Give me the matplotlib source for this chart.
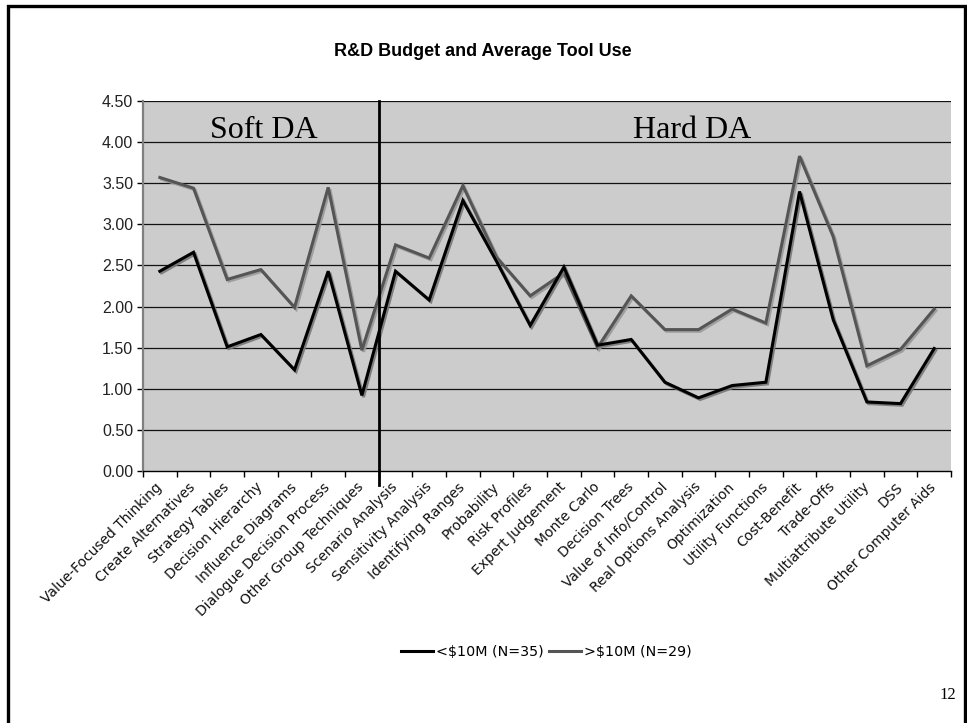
import matplotlib
matplotlib.use('Agg')
import matplotlib.pyplot as plt
import matplotlib.patheffects as pe
from matplotlib.patches import Rectangle
import numpy as np

# 工具名称（前7项为 Soft DA，其余为 Hard DA）
tools = [
    'Value-Focused Thinking', 'Create Alternatives', 'Strategy Tables',
    'Decision Hierarchy', 'Influence Diagrams', 'Dialogue Decision Process',
    'Other Group Techniques', 'Scenario Analysis', 'Sensitivity Analysis',
    'Identifying Ranges', 'Probability', 'Risk Profiles', 'Expert Judgement',
    'Monte Carlo', 'Decision Trees', 'Value of Info/Control',
    'Real Options Analysis', 'Optimization', 'Utility Functions',
    'Cost-Benefit', 'Trade-Offs', 'Multiattribute Utility', 'DSS',
    'Other Computer Aids',
]
n_soft = 7

# 平均使用程度
small_budget = [2.43, 2.66, 1.51, 1.66, 1.23, 2.43, 0.92, 2.43, 2.08, 3.29,
                2.55, 1.77, 2.48, 1.53, 1.60, 1.08, 0.89, 1.04, 1.08, 3.40,
                1.84, 0.84, 0.82, 1.49]
large_budget = [3.57, 3.44, 2.33, 2.45, 1.99, 3.45, 1.47, 2.75, 2.59, 3.47,
                2.60, 2.13, 2.41, 1.50, 2.13, 1.72, 1.72, 1.97, 1.80, 3.83,
                2.85, 1.28, 1.48, 1.97]
series_labels = ['<$10M (N=35)', '>$10M (N=29)']

y_ticks = np.arange(0, 4.51, 0.5)

fig = plt.figure(figsize=(9.67, 7.23), dpi=100)
ax = fig.add_axes([0.1479, 0.3485, 0.8356, 0.5118])

# 页面外框
fig.patches.append(Rectangle((0.0078, -0.05), 0.9897, 1.0413, transform=fig.transFigure,
                             fill=False, edgecolor='black', linewidth=2.4))

x = np.arange(len(tools))
ax.set_facecolor('#cccccc')
ax.plot(x, small_budget, color='black', linewidth=2.2, label=series_labels[0],
        solid_joinstyle='miter',
        path_effects=[pe.SimpleLineShadow(offset=(1.2, -1.2), shadow_color='#777777', alpha=0.9),
                      pe.Normal()], zorder=4)
ax.plot(x, large_budget, color='#555555', linewidth=2.2, label=series_labels[1],
        solid_joinstyle='miter',
        path_effects=[pe.SimpleLineShadow(offset=(1.2, -1.2), shadow_color='#999999', alpha=0.9),
                      pe.Normal()], zorder=3)

ax.set_xlim(-0.5, len(tools) - 0.5)
ax.set_ylim(0, 4.5)
ax.set_yticks(y_ticks)
ax.set_yticklabels([f'{v:.2f}' for v in y_ticks], fontsize=11.5,
                   family=['Liberation Sans'], color='#222222')
for v in y_ticks[1:]:
    ax.axhline(v, color='#111111', linewidth=0.9, zorder=1)

# 类别刻度在格子之间，标签在格子中央
ax.set_xticks(np.arange(len(tools) + 1) - 0.5)
ax.set_xticklabels([])
ax.set_xticks(x, minor=True)
ax.set_xticklabels(tools, minor=True, rotation=45, ha='right', va='center',
                   rotation_mode='anchor', fontsize=10, family=['DejaVu Sans'],
                   color='#111111')
ax.tick_params(axis='x', which='minor', length=0, pad=10)
ax.tick_params(axis='x', which='major', length=4, width=1, color='black', direction='out')
ax.tick_params(axis='y', length=4, width=1, color='black', direction='out', pad=3)

for side in ['top', 'right']:
    ax.spines[side].set_visible(False)
ax.spines['left'].set_color('#808080')
ax.spines['left'].set_linewidth(1.6)
ax.spines['bottom'].set_color('black')
ax.spines['bottom'].set_linewidth(1.0)

# Soft / Hard 分界线
ax.plot([n_soft - 0.5, n_soft - 0.5], [-0.17, 4.5], color='black', linewidth=2.0,
        clip_on=False, zorder=5)
ax.text(3.1, 4.14, 'Soft DA', fontsize=23, family=['Liberation Serif'],
        ha='center', va='center', zorder=6)
ax.text(15.8, 4.14, 'Hard DA', fontsize=23, family=['Liberation Serif'],
        ha='center', va='center', zorder=6)

fig.text(0.4995, 0.929, 'R&D Budget and Average Tool Use', fontsize=13,
         fontweight='bold', family=['Liberation Sans'], ha='center', va='center')

leg = fig.legend(loc='center', bbox_to_anchor=(0.565, 0.098), ncol=2, frameon=False,
                 prop={'family': 'DejaVu Sans', 'size': 10.3}, handlelength=2.2,
                 handletextpad=0.2, columnspacing=0.4)
for line in leg.get_lines():
    line.set_path_effects([])
    line.set_linewidth(2.2)

fig.text(0.9886, 0.039, '12', fontsize=12, family=['Liberation Serif'],
         ha='right', va='center')

fig.savefig('out.png', dpi=100)
